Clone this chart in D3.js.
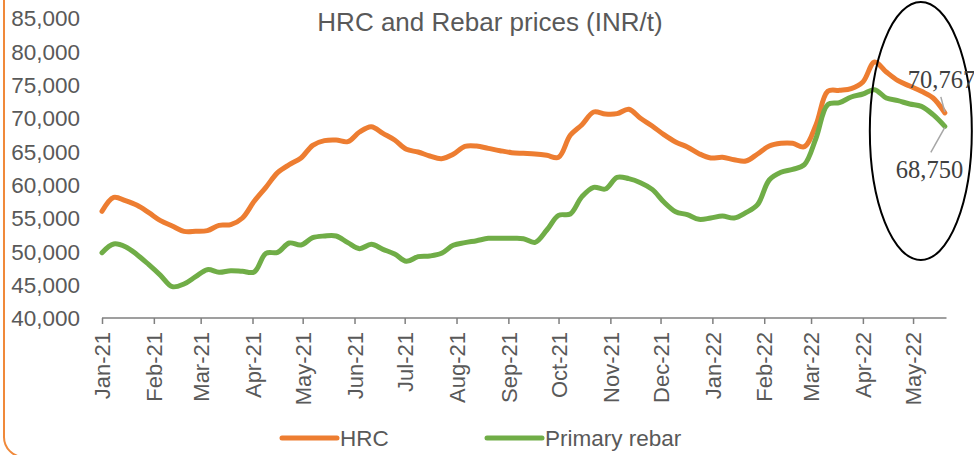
<!DOCTYPE html>
<html>
<head>
<meta charset="utf-8">
<script src="https://cdn.jsdelivr.net/npm/d3@7"></script>
<style>
  html, body { margin: 0; padding: 0; background: #fff; }
  svg { display: block; }
</style>
</head>
<body>
<script>
// ---- Data (weekly readings, Jan 2021 – May 2022) ----
const startDate = "2021-01-01";
const weeks = 73;
const hrc = [
  56000, 58100, 57600, 56900, 55800, 54600, 53800, 53000, 53000, 53100,
  53900, 54000, 55000, 57500, 59600, 61800, 63000, 64000, 65900, 66600,
  66700, 66450, 67900, 68700, 67700, 66700, 65300, 64900, 64300, 63900,
  64550, 65750, 65800, 65450, 65100, 64800, 64700, 64600, 64400, 64100,
  67400, 69000, 70900, 70600, 70650, 71300, 69950, 68800, 67500, 66400,
  65650, 64650, 64000, 64100, 63750, 63550, 64600, 65800, 66200, 66200,
  65700, 69000, 74000, 74150, 74400, 75400, 78400, 76900, 75600, 74800,
  74000, 73000, 70767
];
const rebar = [
  49800, 51100, 50700, 49500, 48000, 46400, 44700, 45100, 46200, 47250,
  46850, 47100, 47000, 46900, 49700, 49850, 51250, 50950, 52050, 52300,
  52300, 51300, 50400, 51050, 50300, 49600, 48500, 49200, 49300, 49700,
  50900, 51300, 51600, 51950, 51950, 51950, 51900, 51350, 53200, 55400,
  55600, 58200, 59600, 59350, 61100, 60900, 60300, 59300, 57400, 55950,
  55500, 54800, 55000, 55300, 55000, 55800, 57000, 60700, 61850, 62300,
  63000, 67000, 72000, 72300, 73150, 73600, 74250, 73000, 72600, 72100,
  71750, 70500, 68750
];
const seriesNames = ["HRC", "Primary rebar"];
const yTicks = [40000, 45000, 50000, 55000, 60000, 65000, 70000, 75000, 80000, 85000];
const title = "HRC and Rebar prices (INR/t)";

const W = 974, H = 455;
const colors = ["#ED7D31", "#70AD47"];
const textColor = "#595959";
const font = "Liberation Sans, Arial, sans-serif";

const parse = d3.utcParse("%Y-%m-%d");
const d0 = parse(startDate);
const dates = d3.range(weeks).map(i => d3.utcDay.offset(d0, i * 7));

const svg = d3.select("body").append("svg").attr("width", W).attr("height", H);

// outer rounded border (only left side visible)
svg.append("rect")
  .attr("x", 4).attr("y", -40).attr("width", 1200).attr("height", 497).attr("rx", 20)
  .attr("fill", "none").attr("stroke", "#F0893A").attr("stroke-width", 2);

const x = d3.scaleUtc()
  .domain([d0, d3.utcDay.offset(d0, 505)])
  .range([102, 946.5]);
const y = d3.scaleLinear().domain([40000, 85000]).range([318, 18]);

// Y axis labels
const yAxis = svg.append("g").attr("transform", "translate(80,0)")
  .call(d3.axisLeft(y).tickValues(yTicks).tickSize(0).tickPadding(0).tickFormat(d3.format(",")));
yAxis.select(".domain").remove();
yAxis.selectAll("text").attr("font-family", font).attr("font-size", 22.5).attr("fill", textColor).attr("dy", "0.35em");

// X axis
const xAxis = svg.append("g").attr("transform", `translate(0,${y(40000)})`)
  .call(d3.axisBottom(x).ticks(d3.utcMonth.every(1)).tickSize(6).tickFormat(d3.utcFormat("%b-%y")));
xAxis.select(".domain").attr("stroke", "#7f7f7f").attr("stroke-width", 1.5).attr("d", `M${x.range()[0]},0H${x.range()[1]}`);
xAxis.selectAll(".tick line").attr("stroke", "#7f7f7f").attr("stroke-width", 1.5);
xAxis.selectAll(".tick text")
  .attr("font-family", font).attr("font-size", 22).attr("fill", textColor)
  .attr("transform", "rotate(-90)")
  .attr("text-anchor", "end")
  .attr("x", -14).attr("y", 0).attr("dy", "0.35em");

// Title
svg.append("text").attr("x", 490).attr("y", 31).attr("text-anchor", "middle")
  .attr("font-family", font).attr("font-size", 26).attr("fill", textColor).text(title);

// Lines
const line = d3.line().x((d, i) => x(dates[i])).y(d => y(d)).curve(d3.curveCatmullRom.alpha(0.5));
[hrc, rebar].forEach((s, k) => {
  svg.append("path").datum(s).attr("d", line)
    .attr("fill", "none").attr("stroke", colors[k]).attr("stroke-width", 5)
    .attr("stroke-linecap", "round").attr("stroke-linejoin", "round");
});

// Ellipse annotation
const lastX = x(dates[weeks - 1]);
svg.append("ellipse").attr("cx", lastX - 24).attr("cy", 131).attr("rx", 51).attr("ry", 129)
  .attr("fill", "none").attr("stroke", "#000").attr("stroke-width", 2);

// Data labels
const lh = y(hrc[weeks - 1]), lr = y(rebar[weeks - 1]);
svg.append("line").attr("x1", lastX).attr("y1", lh - 1).attr("x2", lastX - 4).attr("y2", lh - 16)
  .attr("stroke", "#a6a6a6").attr("stroke-width", 1.5);
svg.append("line").attr("x1", lastX).attr("y1", lr + 1).attr("x2", lastX - 14).attr("y2", lr + 26)
  .attr("stroke", "#a6a6a6").attr("stroke-width", 1.5);
svg.append("text").attr("x", lastX - 37).attr("y", lh - 25)
  .attr("font-family", "Liberation Serif, Times New Roman, serif").attr("font-size", 24.5).attr("fill", "#404040")
  .text(d3.format(",")(hrc[weeks - 1]));
svg.append("text").attr("x", lastX - 49).attr("y", lr + 52)
  .attr("font-family", "Liberation Serif, Times New Roman, serif").attr("font-size", 24.5).attr("fill", "#404040")
  .text(d3.format(",")(rebar[weeks - 1]));

// Legend
const legend = svg.append("g").attr("transform", "translate(0,438)");
const lx = [282, 487];
seriesNames.forEach((n, k) => {
  legend.append("line").attr("x1", lx[k]).attr("x2", lx[k] + 55).attr("y1", 0).attr("y2", 0)
    .attr("stroke", colors[k]).attr("stroke-width", 5).attr("stroke-linecap", "round");
  legend.append("text").attr("x", lx[k] + 58).attr("y", 0).attr("dy", "0.35em")
    .attr("font-family", font).attr("font-size", 22.5).attr("fill", textColor).text(n);
});
</script>
</body>
</html>
